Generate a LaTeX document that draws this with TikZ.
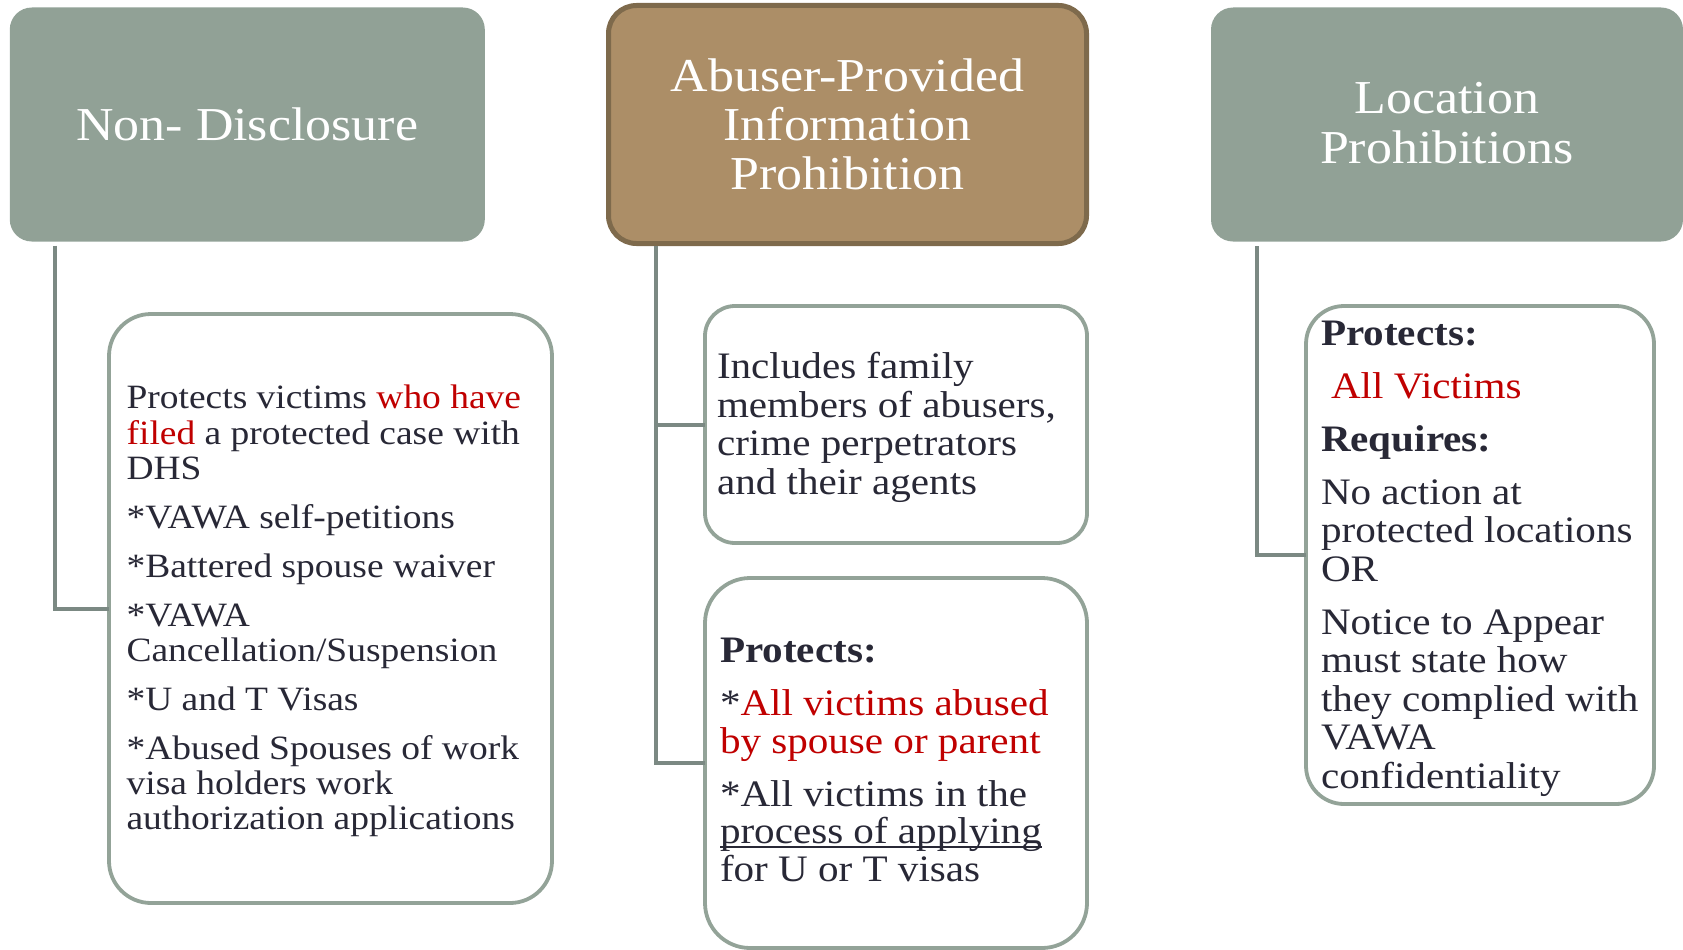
\documentclass[tikz,border=0pt]{standalone}
\usepackage{fontspec}
\setmainfont[FakeStretch=1.1]{Liberation Serif}
\usetikzlibrary{calc}
\definecolor{sage}{HTML}{91A196}
\definecolor{sageedge}{HTML}{93A398}
\definecolor{linkcol}{HTML}{7B8983}
\definecolor{hdrbrown}{HTML}{AC8E67}
\definecolor{brownedge}{HTML}{7E6A4C}
\definecolor{ink}{HTML}{282836}
\definecolor{hl}{HTML}{C00000}
\newcommand\myul[1]{\setbox0\hbox{#1}\rlap{\rule[-4bp]{\wd0}{1.6bp}}\box0}
\begin{document}
\begin{tikzpicture}[x=1bp,y=-1bp,
  hdr/.style={rectangle, rounded corners=22bp, fill=sage, draw=none, inner sep=0, outer sep=0,
    text=white, align=center, font=\fontsize{47.4}{49.5}\selectfont},
  child/.style={rectangle, rounded corners=38bp, draw=sageedge, line width=3.8bp, fill=white,
    inner sep=0, outer sep=0},
  link/.style={draw=linkcol, line width=4bp},
  body/.style={anchor=north west, inner sep=0, outer sep=0, align=left, text=ink},
  big/.style={font=\fontsize{37.5}{38.6}\selectfont}]
\useasboundingbox (0,0) rectangle (1683,949);

% headers
\node[hdr, minimum width=475bp, minimum height=234bp] (h1) at (247.3,124.5) {Non- Disclosure};
\node[hdr, fill=hdrbrown, draw=brownedge, line width=5bp, rounded corners=28bp,
      minimum width=478bp, minimum height=238bp] (h2) at (847.5,124.5)
      {Abuser-Provided\\Information\\Prohibition};
\node[hdr, minimum width=472bp, minimum height=234bp, text depth=3bp] (h3) at (1447,124.5) {Location\\Prohibitions};

% child boxes
\node[child, rounded corners=42bp, minimum width=443bp, minimum height=589bp] (c1) at (330.5,608.5) {};
\node[child, rounded corners=30bp, minimum width=382bp, minimum height=237bp] (c2a) at (896,424.5) {};
\node[child, rounded corners=45bp, minimum width=382bp, minimum height=370bp] (c2b) at (896,763) {};
\node[child, rounded corners=38bp, minimum width=348bp, minimum height=498bp] (c3) at (1480,555) {};

% connectors
\coordinate (s1) at ($(h1.south west)+(45.5,4)$);
\coordinate (s2) at ($(h2.south west)+(47.5,2.5)$);
\coordinate (s3) at ($(h3.south west)+(46,4.5)$);
\draw[link] (s1) |- (c1.west);
\draw[link] (s2) |- (c2b.west);
\draw[link] (s2 |- c2a.west) -- (c2a.west);
\draw[link] (s3) |- (c3.west);

% texts
\node[body, font=\fontsize{34.2}{35.4}\selectfont] (t1) at (126.6,384.2)
{\strut Protects victims \textcolor{hl}{who have}\\
 \textcolor{hl}{filed} a protected case with\\
 DHS\\[13.6bp]
 *VAWA self-petitions\\[13.6bp]
 *Battered spouse waiver\\[13.6bp]
 *VAWA\\
 Cancellation/Suspension\\[13.6bp]
 *U and T Visas\\[13.6bp]
 *Abused Spouses of work\\
 visa holders work\\
 authorization applications};

\node[body, big] (t2a) at (717,352)
{\strut Includes family\\
 members of abusers,\\
 crime perpetrators\\
 and their agents};

\node[body, font=\fontsize{37.5}{38}\selectfont] (t2b) at (720,636)
{\strut\textbf{Protects:}\\[15bp]
 *\textcolor{hl}{All victims abused}\\
 \textcolor{hl}{by spouse or parent}\\[15bp]
 *All victims in the\\
 \myul{process of applying}\\
 for U or T visas};

\node[body, big] (t3) at (1321,319)
{\strut\textbf{Protects:}\\[14.4bp]
 \hspace*{10bp}\textcolor{hl}{All Victims}\\[14.4bp]
 \textbf{Requires:}\\[14.4bp]
 No action at\\
 protected locations\\
 OR\\[14.4bp]
 Notice to Appear\\
 must state how\\
 they complied with\\
 VAWA\\
 confidentiality};
\end{tikzpicture}
\end{document}
